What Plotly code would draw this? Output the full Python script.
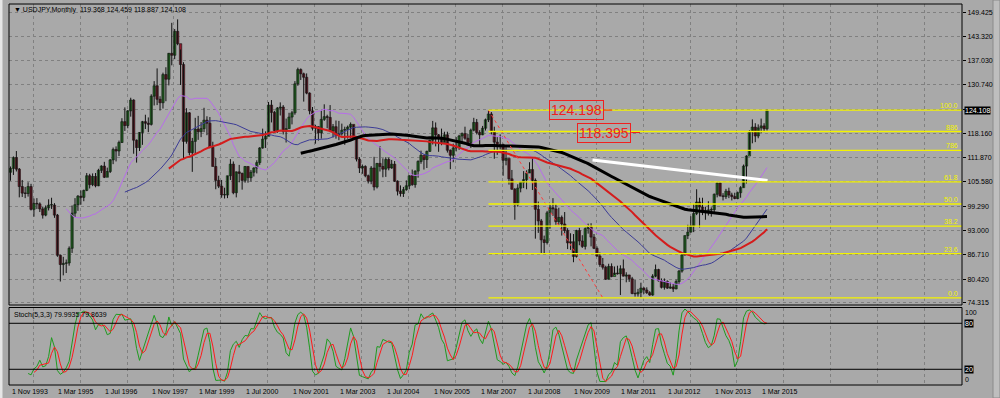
import pandas as pd
import plotly.graph_objects as go

# ---------------- data (monthly USDJPY, Nov 1993 .. May 2015) ----------------
first_open = 108.1
close = [
    109.1, 111.9,                                                               # 1993 Nov-Dec
    108.9, 104.4, 102.7, 102.6, 104.4, 98.5, 100.0, 99.9, 98.6, 97.0, 98.9, 99.6,   # 1994
    99.6, 97.0, 86.6, 84.2, 84.5, 84.6, 88.4, 97.5, 99.7, 101.9, 101.6, 103.4,      # 1995
    107.2, 104.9, 107.0, 104.6, 108.6, 109.7, 106.8, 108.3, 111.3, 114.0, 113.6, 115.8,  # 1996
    121.2, 120.2, 124.0, 126.8, 116.4, 114.5, 118.4, 121.2, 120.8, 120.5, 127.8, 130.5,  # 1997
    127.0, 126.1, 133.4, 132.2, 138.9, 138.4, 144.6, 141.4, 136.0, 116.1, 123.5, 113.2,  # 1998
    116.1, 119.3, 118.6, 119.4, 121.6, 120.8, 114.6, 109.6, 106.0, 104.5, 102.2, 102.2,  # 1999
    107.2, 110.2, 102.8, 108.2, 107.8, 106.0, 109.6, 106.7, 108.1, 109.2, 110.6, 114.4,  # 2000
    116.7, 117.4, 125.5, 123.6, 118.9, 124.7, 125.0, 118.7, 119.4, 122.4, 123.5, 131.0,  # 2001
    134.7, 133.6, 132.7, 128.6, 124.0, 119.5, 119.9, 118.3, 121.8, 122.5, 122.3, 118.8,  # 2002
    119.9, 117.7, 118.1, 119.0, 119.2, 119.8, 120.5, 116.8, 111.5, 109.2, 109.6, 107.2,  # 2003
    105.8, 109.2, 104.3, 110.4, 109.6, 108.9, 111.4, 109.2, 110.2, 105.8, 103.2, 102.6,  # 2004
    103.6, 104.6, 107.2, 104.9, 108.4, 110.9, 112.5, 111.4, 113.5, 116.4, 119.6, 117.8,  # 2005
    117.2, 115.8, 117.8, 113.8, 112.5, 114.4, 114.6, 117.5, 118.1, 116.9, 115.8, 119.0,  # 2006
    121.0, 118.4, 117.8, 119.5, 121.7, 123.2, 118.6, 115.9, 114.9, 115.3, 111.2, 111.7,  # 2007
    106.4, 103.7, 99.7, 104.0, 105.5, 106.2, 107.9, 108.8, 106.0, 98.5, 95.5, 90.6,      # 2008
    89.9, 97.6, 98.9, 98.6, 95.3, 96.4, 94.7, 93.0, 89.8, 90.1, 86.3, 93.0,              # 2009
    90.3, 88.9, 93.5, 94.0, 91.3, 88.4, 86.4, 84.2, 83.5, 80.4, 83.7, 81.1,              # 2010
    82.0, 81.8, 83.1, 81.2, 81.5, 80.5, 76.7, 76.6, 77.0, 78.1, 77.6, 76.9,              # 2011
    76.3, 81.2, 82.9, 80.0, 78.3, 79.8, 78.1, 78.4, 77.9, 79.8, 82.5, 86.7,              # 2012
    91.7, 92.6, 94.2, 97.4, 100.4, 99.1, 97.9, 98.2, 98.3, 98.4, 102.4, 105.3,           # 2013
    102.0, 101.8, 103.2, 102.2, 101.8, 101.3, 102.8, 104.1, 109.7, 112.3, 118.6, 119.8,  # 2014
    117.5, 119.6, 120.1, 119.368, 124.108,                                                # 2015 Jan-May
]
high = [
    109.6, 112.2,
    113.6, 109.2, 106.1, 104.3, 105.5, 105.1, 101.3, 101.4, 100.3, 99.2, 99.5, 101.1,
    101.5, 100.1, 97.3, 86.8, 86.2, 85.5, 88.9, 99.5, 101.4, 102.2, 103.4, 103.6,
    107.9, 107.7, 107.8, 107.9, 109.0, 109.9, 110.8, 109.3, 111.5, 114.5, 114.8, 116.3,
    122.1, 124.9, 124.2, 127.4, 127.0, 116.6, 118.5, 121.4, 123.0, 122.3, 128.3, 131.7,
    135.0, 127.8, 133.9, 135.3, 139.0, 146.8, 145.2, 147.7, 139.9, 136.6, 124.7, 123.7,
    117.0, 122.2, 122.7, 121.1, 124.8, 122.6, 122.4, 116.0, 111.8, 107.2, 106.1, 104.1,
    107.2, 111.5, 110.9, 108.3, 110.0, 108.0, 109.7, 109.6, 108.7, 109.4, 111.2, 114.6,
    119.4, 118.7, 126.3, 126.8, 124.0, 125.0, 126.2, 125.5, 122.0, 123.5, 124.0, 131.7,
    135.2, 135.0, 133.9, 133.7, 128.8, 125.0, 120.4, 120.0, 124.1, 125.7, 123.0, 125.5,
    120.6, 121.5, 121.4, 120.7, 119.9, 120.2, 121.0, 120.4, 117.0, 112.0, 110.1, 109.9,
    107.5, 109.7, 112.1, 110.5, 114.9, 111.7, 112.0, 111.9, 111.3, 111.0, 106.0, 104.7,
    104.3, 106.0, 107.3, 108.8, 108.6, 111.2, 113.7, 112.0, 113.7, 116.5, 121.4, 121.0,
    118.0, 119.4, 118.6, 118.6, 114.0, 115.5, 117.2, 117.8, 118.4, 119.9, 118.0, 119.4,
    122.2, 121.9, 119.0, 120.1, 122.0, 124.1, 123.7, 119.9, 117.2, 117.9, 115.5, 114.6,
    111.5, 108.7, 104.0, 105.0, 105.6, 108.4, 108.6, 110.7, 112.0, 106.5, 100.5, 96.0,
    91.7, 98.1, 99.7, 101.4, 99.8, 98.9, 96.9, 97.8, 93.6, 92.3, 92.1, 93.2,
    93.7, 91.8, 93.8, 94.8, 94.9, 92.1, 88.9, 87.3, 85.9, 83.9, 84.4, 84.5,
    83.7, 83.9, 84.0, 85.5, 82.2, 81.5, 81.0, 80.2, 77.9, 79.5, 78.3, 78.3,
    77.3, 81.7, 84.2, 83.1, 80.6, 80.6, 80.1, 79.6, 79.2, 80.3, 82.8, 86.8,
    91.7, 94.5, 96.7, 99.9, 103.7, 101.5, 101.5, 99.1, 100.6, 99.0, 102.6, 105.4,
    105.4, 102.7, 103.8, 104.1, 102.8, 102.8, 103.1, 104.5, 110.1, 112.5, 119.0, 121.8,
    120.8, 120.5, 122.0, 120.8, 124.459,
]
low = [
    105.9, 107.4,
    108.3, 101.6, 101.7, 101.4, 101.8, 98.2, 96.6, 98.6, 97.8, 96.1, 96.7, 98.2,
    98.6, 96.3, 86.2, 79.8, 81.4, 82.0, 83.9, 87.2, 96.5, 98.1, 99.7, 100.6,
    103.2, 103.9, 104.5, 104.2, 104.5, 107.9, 106.6, 106.9, 107.9, 110.2, 110.9, 112.3,
    115.7, 118.8, 119.5, 122.5, 112.9, 110.6, 113.6, 115.2, 119.3, 118.5, 120.2, 125.4,
    125.5, 124.1, 124.6, 126.5, 130.6, 135.8, 137.4, 141.0, 130.7, 111.6, 115.5, 112.5,
    108.2, 113.0, 116.5, 117.2, 118.5, 117.7, 114.3, 109.6, 103.7, 104.0, 101.5, 101.3,
    101.4, 106.1, 102.4, 101.6, 105.5, 103.6, 105.4, 105.4, 105.7, 107.0, 107.8, 110.0,
    114.2, 114.4, 117.5, 121.0, 118.7, 118.3, 122.8, 117.9, 115.8, 119.4, 120.5, 123.0,
    130.5, 132.0, 126.4, 128.3, 123.1, 118.9, 115.5, 116.3, 116.8, 121.4, 119.5, 118.5,
    117.1, 116.8, 116.4, 117.6, 115.2, 116.8, 116.9, 116.5, 110.9, 107.9, 107.7, 106.8,
    105.2, 105.0, 103.4, 103.9, 108.3, 106.8, 106.9, 108.6, 109.0, 105.6, 102.1, 101.8,
    101.7, 103.3, 103.7, 104.6, 104.1, 106.7, 110.3, 108.8, 109.2, 113.4, 115.3, 114.8,
    113.4, 115.1, 115.9, 113.2, 108.9, 110.7, 113.5, 113.9, 115.5, 116.5, 115.2, 114.4,
    118.7, 117.9, 115.2, 117.7, 118.9, 121.1, 117.9, 111.6, 112.6, 114.0, 107.2, 109.9,
    104.9, 103.6, 95.8, 99.2, 102.9, 104.0, 103.7, 107.9, 103.5, 90.9, 92.4, 87.2,
    87.1, 89.4, 93.5, 96.8, 94.5, 94.5, 91.7, 92.3, 88.2, 88.0, 84.8, 86.0,
    89.2, 88.5, 88.1, 92.2, 88.9, 88.2, 86.2, 83.6, 82.9, 80.2, 80.3, 80.9,
    81.5, 81.6, 76.3, 81.1, 79.6, 79.7, 76.5, 75.9, 75.9, 75.6, 76.6, 76.6,
    76.1, 76.1, 80.9, 79.8, 78.0, 77.7, 77.9, 77.9, 77.1, 77.8, 79.1, 82.1,
    86.5, 90.8, 92.5, 92.6, 97.0, 93.8, 97.0, 95.8, 96.9, 96.6, 97.6, 101.6,
    101.8, 100.8, 101.2, 101.4, 100.8, 101.1, 101.1, 101.5, 104.1, 105.2, 112.6, 115.6,
    115.9, 116.9, 118.3, 118.5, 118.887,
]
date_labels = ["1 Nov 1993", "1 Mar 1995", "1 Jul 1996", "1 Nov 1997", "1 Mar 1999",
               "1 Jul 2000", "1 Nov 2001", "1 Mar 2003", "1 Jul 2004", "1 Nov 2005",
               "1 Mar 2007", "1 Jul 2008", "1 Nov 2009", "1 Mar 2011", "1 Jul 2012",
               "1 Nov 2013", "1 Mar 2015"]
label_step = 16          # bars between date labels
price_ticks = [149.425, 143.320, 137.030, 130.740, 124.450, 118.160, 111.870,
               105.580, 99.290, 93.000, 86.710, 80.420, 74.315]
last_price = 124.108
ma_periods = [20, 40, 55, 100]
ma_colors = ["#B86CEC", "#3C3C96", "#D41C1C", "#000000"]
ma_widths = [1, 1, 2, 3]
fib_high, fib_low = 124.198, 75.56
fib_start_bar, fib_end_bar = 163, 202
fib_levels = [0.0, 23.6, 38.2, 50.0, 61.8, 78.6, 88.6, 100.0]
fib_texts = ["0.0", "23.6", "38.2", "50.0", "61.8", "786", "886", "100.0"]
price_marks = [124.198, 118.395]
price_mark_bars = [192.9, 202.4]
white_line_bars = [198.5, 258.2]
white_line_prices = [111.3, 106.0]
title_text = "▼ USDJPY,Monthly  119.368 124.459 118.887 124.108"
stoch_text = "Stoch(5,3,3) 79.9935 79.8639"

# ---------------- derived ----------------
n = len(close)
bars = list(range(n))
open_ = [first_open] + close[:-1]
s_close = pd.Series(close)
s_high = pd.Series(high)
s_low = pd.Series(low)
hh = s_high.rolling(5).max()
ll = s_low.rolling(5).min()
num = (s_close - ll).rolling(3).sum()
den = (hh - ll).rolling(3).sum()
stoch_k = 100 * num / den
stoch_d = stoch_k.rolling(3).mean()

W, H = 1000, 398
L_PX, R_PX, T_PX, B_PX = 9, 962, 4, 385
def px_x(px):
    return (px - L_PX) / (R_PX - L_PX)
def px_y(py):
    return (B_PX - py) / (B_PX - T_PX)

xr = [-0.51, 324.5]
y_main = [73.72, 151.68]

FONT = "Liberation Sans, Arial, sans-serif"
BG = "#A9A9A9"
GRID = "#808080"

fig = go.Figure()

# candle wicks
wx, wy = [], []
for i in bars:
    wx += [i, i, None]
    wy += [low[i], high[i], None]
fig.add_trace(go.Scatter(x=wx, y=wy, mode="lines", line=dict(color="#111111", width=1),
                         xaxis="x", yaxis="y", showlegend=False, hoverinfo="skip"))
# candle bodies
for up, fill in ((True, "#2E9B2E"), (False, "#8E1B2C")):
    idx = [i for i in bars if (close[i] >= open_[i]) == up]
    fig.add_trace(go.Bar(
        x=idx, base=[min(open_[i], close[i]) for i in idx],
        y=[max(abs(close[i] - open_[i]), 0.15) for i in idx],
        width=0.8, marker=dict(color=fill, line=dict(color="#111111", width=0.6)),
        xaxis="x", yaxis="y", showlegend=False, hoverinfo="skip"))

# moving averages
for p, c, w in zip(ma_periods, ma_colors, ma_widths):
    ma = s_close.rolling(p).mean()
    fig.add_trace(go.Scatter(x=bars, y=ma, mode="lines", line=dict(color=c, width=w),
                             xaxis="x", yaxis="y", showlegend=False, hoverinfo="skip"))

# fibonacci levels
rng = fib_high - fib_low
for lv, tx in zip(fib_levels, fib_texts):
    yv = fib_low + rng * lv / 100.0
    fig.add_shape(type="line", xref="x", yref="y", x0=fib_start_bar, x1=xr[1],
                  y0=yv, y1=yv, line=dict(color="#F4F400", width=1.3))
    fig.add_annotation(x=px_x(960), xref="paper", y=yv, yref="y", text=tx,
                       showarrow=False, xanchor="right", yanchor="bottom",
                       font=dict(family=FONT, size=7, color="#F4F400"), yshift=-1)
fig.add_trace(go.Scatter(x=[fib_start_bar, fib_end_bar], y=[fib_high, fib_low], mode="lines",
                         line=dict(color="#FF3B3B", width=1, dash="dot"),
                         xaxis="x", yaxis="y", showlegend=False, hoverinfo="skip"))

# white trend line
fig.add_trace(go.Scatter(x=white_line_bars, y=white_line_prices, mode="lines",
                         line=dict(color="#FFFFFF", width=3),
                         xaxis="x", yaxis="y", showlegend=False, hoverinfo="skip"))

# red price marks
for b, pv in zip(price_mark_bars, price_marks):
    fig.add_annotation(x=b, y=pv, xref="x", yref="y", text=f"{pv:.3f}", showarrow=False,
                       font=dict(family=FONT, size=14, color="#F02020"),
                       bordercolor="#F02020", borderwidth=1, borderpad=1)
    fig.add_shape(type="line", xref="x", yref="y", x0=b + 9.3, x1=b + 12.3, y0=pv, y1=pv,
                  line=dict(color="#F02020", width=1))

# stochastic
fig.add_trace(go.Scatter(x=bars, y=stoch_k, mode="lines", line=dict(color="#1F9A1F", width=1),
                         xaxis="x2", yaxis="y2", showlegend=False, hoverinfo="skip"))
fig.add_trace(go.Scatter(x=bars, y=stoch_d, mode="lines", line=dict(color="#FF1A1A", width=1),
                         xaxis="x2", yaxis="y2", showlegend=False, hoverinfo="skip"))
for lv in (80, 20):
    fig.add_shape(type="line", xref="x2 domain", yref="y2", x0=0, x1=1, y0=lv, y1=lv,
                  line=dict(color="#000000", width=1))

# panel frames
for ax in ("", "2"):
    fig.add_shape(type="rect", xref=f"x{ax} domain", yref=f"y{ax} domain", x0=0, x1=1, y0=0, y1=1,
                  line=dict(color="#000000", width=1), fillcolor="rgba(0,0,0,0)")

# window edges
fig.add_shape(type="rect", xref="paper", yref="paper", x0=px_x(0), x1=px_x(2.5), y0=px_y(398), y1=px_y(0),
              line=dict(width=0), fillcolor="#E6E6E6", layer="below")
fig.add_shape(type="rect", xref="paper", yref="paper", x0=px_x(993), x1=px_x(1000), y0=px_y(398), y1=px_y(0),
              line=dict(color="#8A8A8A", width=1), fillcolor="#BEBEBE", layer="below")

# texts
fig.add_annotation(x=px_x(12), y=px_y(10), xref="paper", yref="paper", text=title_text,
                   showarrow=False, xanchor="left", yanchor="middle",
                   font=dict(family=FONT, size=7, color="#000000"))
fig.add_annotation(x=px_x(12), y=px_y(314.5), xref="paper", yref="paper", text=stoch_text,
                   showarrow=False, xanchor="left", yanchor="middle",
                   font=dict(family=FONT, size=7, color="#000000"))
for k, lab in enumerate(date_labels):
    fig.add_annotation(x=k * label_step, xref="x2", y=px_y(391.5), yref="paper", text=lab,
                       showarrow=False, xanchor="left", yanchor="middle", xshift=-1,
                       font=dict(family=FONT, size=7, color="#000000"))
fig.add_annotation(x=px_x(964), y=last_price, xref="paper", yref="y", text=f"{last_price:.3f}",
                   showarrow=False, xanchor="left", yanchor="middle", bgcolor="#000000", borderpad=0,
                   font=dict(family=FONT, size=7, color="#FFFFFF"))
for txt, py, box in (("100", 312, False), ("80", 323.3, True), ("20", 369.3, True), ("0", 379.5, False)):
    fig.add_annotation(x=px_x(964), y=px_y(py), xref="paper", yref="paper", text=txt,
                       showarrow=False, xanchor="left", yanchor="middle",
                       bgcolor="#000000" if box else None, borderpad=0,
                       font=dict(family=FONT, size=7, color="#FFFFFF" if box else "#000000"))

grid_x = [7.75 + label_step * k for k in range(21)]
main_dom = [px_y(305), 1.0]
stoch_dom = [0.0, px_y(307.5)]
ticktext = [("" if abs(v - 124.45) < 1e-6 else f"{v:.3f}") for v in price_ticks]

fig.update_layout(
    width=W, height=H, margin=dict(l=L_PX, r=W - R_PX, t=T_PX, b=H - B_PX),
    paper_bgcolor=BG, plot_bgcolor=BG, showlegend=False, hovermode=False,
    barmode="overlay", bargap=0,
    xaxis=dict(domain=[0, 1], anchor="y", range=xr, tickmode="array", tickvals=grid_x,
               showticklabels=False, ticks="", showgrid=True, gridcolor=GRID, griddash="3px,3px",
               gridwidth=1, zeroline=False, fixedrange=True),
    yaxis=dict(domain=main_dom, anchor="x", range=y_main, side="right", tickmode="array",
               tickvals=price_ticks, ticktext=ticktext, ticks="outside", ticklen=3,
               tickcolor="#000000", tickfont=dict(family=FONT, size=7, color="#000000"),
               showgrid=True, gridcolor=GRID, griddash="3px,3px", gridwidth=1, zeroline=False),
    xaxis2=dict(domain=[0, 1], anchor="y2", range=xr, matches="x", tickmode="array", tickvals=grid_x,
                showticklabels=False, ticks="", showgrid=True, gridcolor=GRID, griddash="3px,3px",
                gridwidth=1, zeroline=False),
    yaxis2=dict(domain=stoch_dom, anchor="x2", range=[-0.5, 100.6], side="right",
                showticklabels=False, ticks="", showgrid=False, zeroline=False),
)

fig.write_html("out.html", config={"displayModeBar": False, "staticPlot": True},
               post_script="document.body.style.margin='0';document.body.style.overflow='hidden';")
